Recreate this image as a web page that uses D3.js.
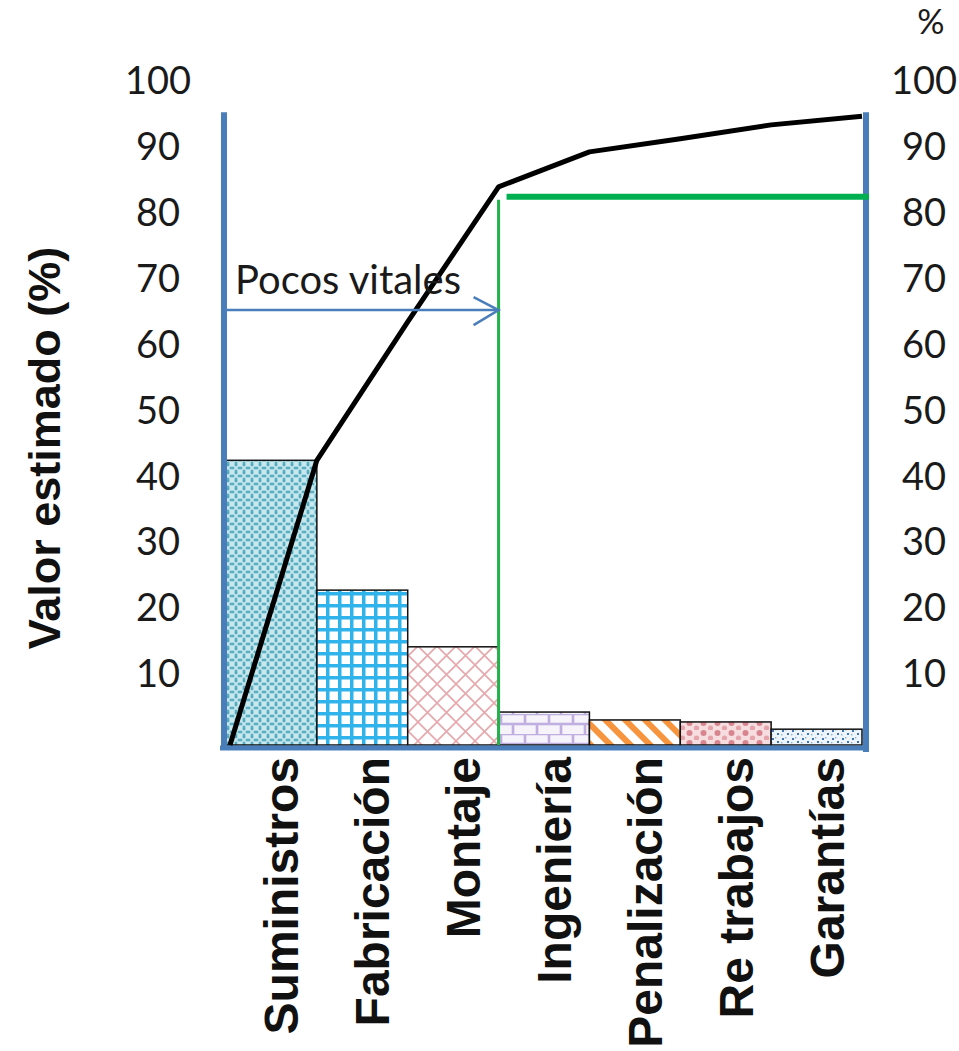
<!DOCTYPE html>
<html>
<head>
<meta charset="utf-8">
<script src="https://cdn.jsdelivr.net/npm/d3@7"></script>
<style>
  html, body { margin: 0; padding: 0; background: #fff; }
  svg { display: block; }
</style>
</head>
<body>
<svg id="chart" width="959" height="1051"></svg>
<script>
// Cost categories, sorted by estimated value (Pareto order)
const categories = ["Suministros", "Fabricación", "Montaje", "Ingeniería", "Penalización", "Re trabajos", "Garantías"];
// Estimated value of each category (%)
const values = [43.2, 23.5, 14.9, 5.0, 3.8, 3.5, 2.4];
// Cumulative percentage, starting from zero at the left edge
const cumulative = [0, 43.2, 64.2, 84.7, 90.0, 92.0, 94.1, 95.4];
// Tick labels shown on both vertical axes
const tickValues = [10, 20, 30, 40, 50, 60, 70, 80, 90, 100];
// Pareto cut: the first three categories ("vital few") and the cumulative level at the cut
const vitalCount = 3;
const cutLevel = 83.2;
const arrowLevel = 66;
const arrowLabel = "Pocos vitales";

const svg = d3.select("#chart");

const x = d3.scaleBand().domain(categories).range([226, 862]).padding(0);
const y = d3.scaleLinear().domain([0, 100]).range([745, 86]);

const axisBlue = "#4a7ebb";
const tickFont = "Lato, 'Open Sans', sans-serif";
const boldFont = "'Liberation Sans', Arial, sans-serif";

// ---- fill patterns for the bars ----
const defs = svg.append("defs");

// 1: teal with light diamond lattice
{
  const p = defs.append("pattern").attr("id", "pat0").attr("patternUnits", "userSpaceOnUse")
    .attr("width", 8).attr("height", 8);
  p.append("rect").attr("width", 8).attr("height", 8).attr("fill", "#5aadc0");
  p.append("path").attr("d", "M0,0L8,8M8,0L0,8").attr("stroke", "#c6e8ee").attr("stroke-width", 1.6);
  p.append("path").attr("d", "M-1,3L3,-1M5,9L9,5M-1,5L3,9M5,-1L9,3").attr("stroke", "#c6e8ee").attr("stroke-width", 1.6);
  p.append("circle").attr("cx", 4).attr("cy", 0).attr("r", 0.9).attr("fill", "#4a9fb3");
}
// 2: bright blue square grid
{
  const p = defs.append("pattern").attr("id", "pat1").attr("patternUnits", "userSpaceOnUse")
    .attr("width", 12).attr("height", 12).attr("x", 314).attr("y", 592);
  p.append("rect").attr("width", 12).attr("height", 12).attr("fill", "#ffffff");
  p.append("rect").attr("x", 0).attr("y", 0).attr("width", 3.5).attr("height", 12).attr("fill", "#30b3ea");
  p.append("rect").attr("x", 0).attr("y", 0).attr("width", 12).attr("height", 3.5).attr("fill", "#30b3ea");
}
// 3: pink diagonal crosshatch
{
  const p = defs.append("pattern").attr("id", "pat2").attr("patternUnits", "userSpaceOnUse")
    .attr("width", 19).attr("height", 19);
  p.append("rect").attr("width", 19).attr("height", 19).attr("fill", "#ffffff");
  p.append("path").attr("d", "M0,0L19,19M19,0L0,19M-2,17L2,21M17,-2L21,2")
    .attr("stroke", "#e6a8ac").attr("stroke-width", 1.6);
}
// 4: lavender brick
{
  const p = defs.append("pattern").attr("id", "pat3").attr("patternUnits", "userSpaceOnUse")
    .attr("width", 24).attr("height", 20).attr("x", 497).attr("y", 714);
  p.append("rect").attr("width", 24).attr("height", 20).attr("fill", "#f6f3fb");
  p.append("path").attr("d", "M0,0H24M0,10H24M4,0V10M16,10V20")
    .attr("stroke", "#bfaee0").attr("stroke-width", 2.6);
}
// 5: orange diagonal stripes
{
  const p = defs.append("pattern").attr("id", "pat4").attr("patternUnits", "userSpaceOnUse")
    .attr("width", 14).attr("height", 14).attr("patternTransform", "rotate(-45)");
  p.append("rect").attr("width", 14).attr("height", 14).attr("fill", "#ffffff");
  p.append("rect").attr("width", 6).attr("height", 14).attr("fill", "#f7943e");
}
// 6: rose spheres
{
  const p = defs.append("pattern").attr("id", "pat5").attr("patternUnits", "userSpaceOnUse")
    .attr("width", 14).attr("height", 10);
  p.append("rect").attr("width", 14).attr("height", 10).attr("fill", "#f6dde0");
  p.append("circle").attr("cx", 3.5).attr("cy", 3).attr("r", 3).attr("fill", "#d8858f");
  p.append("circle").attr("cx", 10.5).attr("cy", 8).attr("r", 2.6).attr("fill", "#e5a3aa");
}
// 7: small blue confetti dots
{
  const p = defs.append("pattern").attr("id", "pat6").attr("patternUnits", "userSpaceOnUse")
    .attr("width", 10).attr("height", 8);
  p.append("rect").attr("width", 10).attr("height", 8).attr("fill", "#eef4fb");
  [[2, 2], [7, 5], [5, 1], [1, 6]].forEach(([cx, cy], i) => {
    p.append("rect").attr("x", cx).attr("y", cy).attr("width", i < 2 ? 2 : 1.4).attr("height", i < 2 ? 2 : 1.4)
      .attr("fill", i < 2 ? "#3f74b8" : "#8fb0da");
  });
}

// ---- bars ----
svg.append("g").selectAll("rect")
  .data(categories)
  .join("rect")
  .attr("x", d => x(d))
  .attr("y", (d, i) => y(values[i]))
  .attr("width", x.bandwidth())
  .attr("height", (d, i) => y(0) - y(values[i]))
  .attr("fill", (d, i) => `url(#pat${i})`)
  .attr("stroke", "#111")
  .attr("stroke-width", 1.5);

// ---- axes (drawn as heavy blue frame lines) ----
const [xLeft, xRight] = x.range();
svg.append("line").attr("x1", xLeft - 2).attr("x2", xLeft - 2).attr("y1", y(96)).attr("y2", y(0) + 4)
  .attr("stroke", axisBlue).attr("stroke-width", 6);
svg.append("line").attr("x1", xRight + 4).attr("x2", xRight + 4).attr("y1", y(96)).attr("y2", y(0) + 7)
  .attr("stroke", axisBlue).attr("stroke-width", 6);
svg.append("line").attr("x1", xLeft - 6).attr("x2", xRight + 7).attr("y1", y(0) + 3).attr("y2", y(0) + 3)
  .attr("stroke", axisBlue).attr("stroke-width", 5);

// tick labels, left and right
const leftAxis = d3.axisLeft(y).tickValues(tickValues).tickSize(0).tickPadding(0);
const rightAxis = d3.axisRight(y).tickValues(tickValues).tickSize(0).tickPadding(0);
const gl = svg.append("g").attr("transform", "translate(158,0)").call(leftAxis);
const gr = svg.append("g").attr("transform", "translate(924,0)").call(rightAxis);
[gl, gr].forEach(g => {
  g.select(".domain").remove();
  g.selectAll("text")
    .attr("x", 0)
    .attr("text-anchor", "middle")
    .attr("dy", "0.2em")
    .style("font-family", tickFont)
    .style("font-size", "38px")
    .attr("fill", "#1a1a1a");
});
svg.append("text").attr("x", 931).attr("y", 34).attr("text-anchor", "middle")
  .style("font-family", tickFont).style("font-size", "34px").attr("fill", "#1a1a1a").text("%");

// y-axis title
svg.append("text")
  .attr("transform", "translate(60,448) rotate(-90)")
  .attr("text-anchor", "middle")
  .style("font-family", boldFont).style("font-weight", "bold").style("font-size", "45px")
  .attr("fill", "#111")
  .text("Valor estimado (%)");

// category labels, rotated
svg.append("g").selectAll("text")
  .data(categories)
  .join("text")
  .attr("transform", d => `translate(${x(d) + x.bandwidth() / 2 + 27},757) rotate(-90)`)
  .attr("text-anchor", "end")
  .style("font-family", boldFont).style("font-weight", "bold").style("font-size", "48px")
  .attr("fill", "#111")
  .text(d => d);

// ---- Pareto cut lines (green) ----
const cutX = x(categories[vitalCount]);
svg.append("line").attr("x1", cutX).attr("x2", cutX).attr("y1", y(cutLevel) + 3).attr("y2", y(0))
  .attr("stroke", "#22b24c").attr("stroke-width", 3);
svg.append("line").attr("x1", cutX + 8).attr("x2", xRight + 7).attr("y1", y(cutLevel)).attr("y2", y(cutLevel))
  .attr("stroke", "#00b050").attr("stroke-width", 6);

// ---- cumulative line ----
const linePts = cumulative.map((v, i) => [i === 0 ? x(categories[0]) + 4 : x(categories[i - 1]) + x.bandwidth(), y(v)]);
svg.append("path")
  .attr("d", d3.line()(linePts))
  .attr("fill", "none")
  .attr("stroke", "#000")
  .attr("stroke-width", 5)
  .attr("stroke-linejoin", "round");

// ---- "vital few" arrow ----
const ay = y(arrowLevel);
svg.append("line").attr("x1", xLeft + 1).attr("x2", cutX).attr("y1", ay).attr("y2", ay)
  .attr("stroke", axisBlue).attr("stroke-width", 2.5);
svg.append("path").attr("d", `M${cutX - 25},${ay - 13}L${cutX},${ay}L${cutX - 25},${ay + 15}`)
  .attr("fill", "none").attr("stroke", axisBlue).attr("stroke-width", 2.5);
svg.append("text").attr("x", xLeft + 9).attr("y", ay - 16)
  .style("font-family", tickFont).style("font-size", "40px").attr("fill", "#1a1a1a")
  .text(arrowLabel);
</script>
</body>
</html>
